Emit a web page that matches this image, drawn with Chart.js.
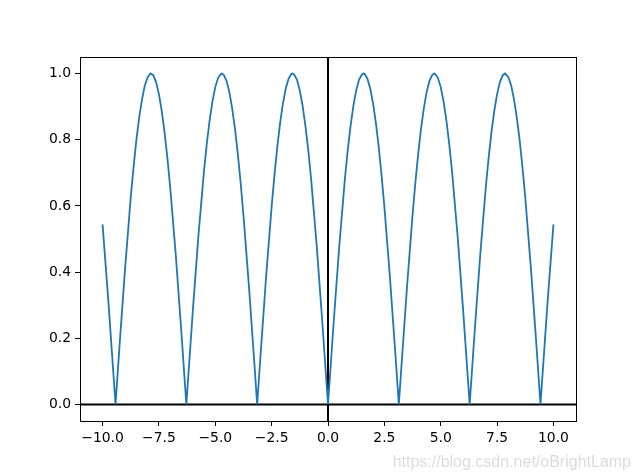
<!DOCTYPE html>
<html>
<head>
<meta charset="utf-8">
<script src="https://cdn.jsdelivr.net/npm/chart.js@4.4.0/dist/chart.umd.min.js"></script>
<style>
  html, body { margin: 0; padding: 0; background: #fff; }
  #wrap { width: 640px; height: 473px; position: relative; }
</style>
</head>
<body>
<div id="wrap"><canvas id="chart" width="640" height="473"></canvas></div>
<script>
// valores (|sin x| de -10 a 10), mas densos cerca de los picos
const xVals = [
  -10, -9.75, -9.5, -9.425, -9.25, -9, -8.75, -8.625, -8.5, -8.375, -8.25, -8.125, -8, -7.875, -7.854, -7.75, -7.625, -7.5, -7.375, -7.25, -7.125, -7, -6.75, -6.5, -6.283,
  -6.25, -6, -5.75, -5.5, -5.375, -5.25, -5.125, -5, -4.875, -4.75, -4.712, -4.625, -4.5, -4.375, -4.25, -4.125, -4, -3.875, -3.75, -3.5, -3.25, -3.142,
  -3, -2.75, -2.5, -2.375, -2.25, -2.125, -2, -1.875, -1.75, -1.625, -1.571, -1.5, -1.375, -1.25, -1.125, -1, -0.875, -0.75, -0.5, -0.25, 0,
  0.25, 0.5, 0.75, 0.875, 1, 1.125, 1.25, 1.375, 1.5, 1.571, 1.625, 1.75, 1.875, 2, 2.125, 2.25, 2.375, 2.5, 2.75, 3, 3.142,
  3.25, 3.5, 3.75, 3.875, 4, 4.125, 4.25, 4.375, 4.5, 4.625, 4.712, 4.75, 4.875, 5, 5.125, 5.25, 5.375, 5.5, 5.75, 6, 6.25, 6.283,
  6.5, 6.75, 7, 7.125, 7.25, 7.375, 7.5, 7.625, 7.75, 7.854, 7.875, 8, 8.125, 8.25, 8.375, 8.5, 8.625, 8.75, 9, 9.25, 9.425, 9.5, 9.75, 10
];
const yVals = [
  0.544, 0.320, 0.075, 0, 0.174, 0.412, 0.625, 0.717, 0.799, 0.867, 0.922, 0.964, 0.989, 1.000, 1.0, 0.995, 0.974, 0.938, 0.887, 0.823, 0.746, 0.657, 0.450, 0.215, 0,
  0.033, 0.279, 0.508, 0.706, 0.788, 0.859, 0.916, 0.959, 0.987, 0.999, 1.0, 0.996, 0.978, 0.944, 0.895, 0.833, 0.757, 0.670, 0.572, 0.351, 0.108, 0,
  0.141, 0.382, 0.598, 0.693, 0.778, 0.850, 0.909, 0.954, 0.984, 0.999, 1.0, 0.997, 0.981, 0.949, 0.902, 0.841, 0.768, 0.682, 0.479, 0.247, 0,
  0.247, 0.479, 0.682, 0.768, 0.841, 0.902, 0.949, 0.981, 0.997, 1.0, 0.999, 0.984, 0.954, 0.909, 0.850, 0.778, 0.693, 0.598, 0.382, 0.141, 0,
  0.108, 0.351, 0.572, 0.670, 0.757, 0.833, 0.895, 0.944, 0.978, 0.996, 1.0, 0.999, 0.987, 0.959, 0.916, 0.859, 0.788, 0.706, 0.508, 0.279, 0.033, 0,
  0.215, 0.450, 0.657, 0.746, 0.823, 0.887, 0.938, 0.974, 0.995, 1.0, 1.000, 0.989, 0.964, 0.922, 0.867, 0.799, 0.717, 0.625, 0.412, 0.174, 0, 0.075, 0.320, 0.544
];
const xTicks = [-10, -7.5, -5, -2.5, 0, 2.5, 5, 7.5, 10];
const yTicks = [0, 0.2, 0.4, 0.6, 0.8, 1.0];
const watermark = "https://blog.csdn.net/oBrightLamp";

const fuente = { family: "'DejaVu Sans', sans-serif", size: 13.9 };

function fmt(v) {
  // matplotlib usa el signo menos unicode
  const s = v.toFixed(1);
  return s.startsWith('-') ? '\u2212' + s.slice(1) : s;
}

// marco, ejes en cero y marca de agua
const extras = {
  id: 'extras',
  beforeDatasetsDraw(chart) {
    const { ctx, chartArea: a, scales } = chart;
    const y0 = scales.y.getPixelForValue(0);
    const x0 = scales.x.getPixelForValue(0);
    ctx.save();
    ctx.strokeStyle = '#000';
    ctx.lineWidth = 2;
    ctx.beginPath();
    ctx.moveTo(a.left, y0); ctx.lineTo(a.right, y0);
    ctx.moveTo(x0, a.top); ctx.lineTo(x0, a.bottom);
    ctx.stroke();
    ctx.restore();
  },
  afterDraw(chart) {
    const { ctx, chartArea: a } = chart;
    ctx.save();
    ctx.strokeStyle = '#000';
    ctx.lineWidth = 1;
    ctx.strokeRect(Math.round(a.left) + 0.5, Math.round(a.top) + 0.5,
      Math.round(a.right - a.left), Math.round(a.bottom - a.top));
    ctx.font = "16px 'Liberation Sans', Arial, sans-serif";
    ctx.fillStyle = '#dcdcdc';
    ctx.textAlign = 'right';
    ctx.textBaseline = 'alphabetic';
    ctx.fillText(watermark, 631, 467);
    ctx.restore();
  }
};

new Chart(document.getElementById('chart'), {
  type: 'line',
  data: {
    datasets: [{
      data: xVals.map((x, i) => ({ x: x, y: yVals[i] })),
      borderColor: '#1f77b4',
      borderWidth: 1.8,
      pointRadius: 0,
      tension: 0,
      fill: false
    }]
  },
  options: {
    responsive: false,
    animation: false,
    layout: { padding: { top: 57, right: 64, left: 0, bottom: 0 } },
    plugins: { legend: { display: false }, tooltip: { enabled: false } },
    scales: {
      x: {
        type: 'linear',
        min: -11,
        max: 11,
        afterBuildTicks: s => { s.ticks = xTicks.map(v => ({ value: v })); },
        afterFit: s => { s.height = 52; },
        grid: { drawOnChartArea: false, drawTicks: true, tickLength: 5, color: '#000' },
        border: { display: false },
        ticks: { color: '#000', font: fuente, padding: 4, maxRotation: 0, callback: v => fmt(v) }
      },
      y: {
        type: 'linear',
        min: -0.05,
        max: 1.05,
        afterBuildTicks: s => { s.ticks = yTicks.map(v => ({ value: v })); },
        afterFit: s => { s.width = 80; },
        grid: { drawOnChartArea: false, drawTicks: true, tickLength: 5, color: '#000' },
        border: { display: false },
        ticks: { color: '#000', font: fuente, padding: 4, callback: v => fmt(v) }
      }
    }
  },
  plugins: [extras]
});
</script>
</body>
</html>
